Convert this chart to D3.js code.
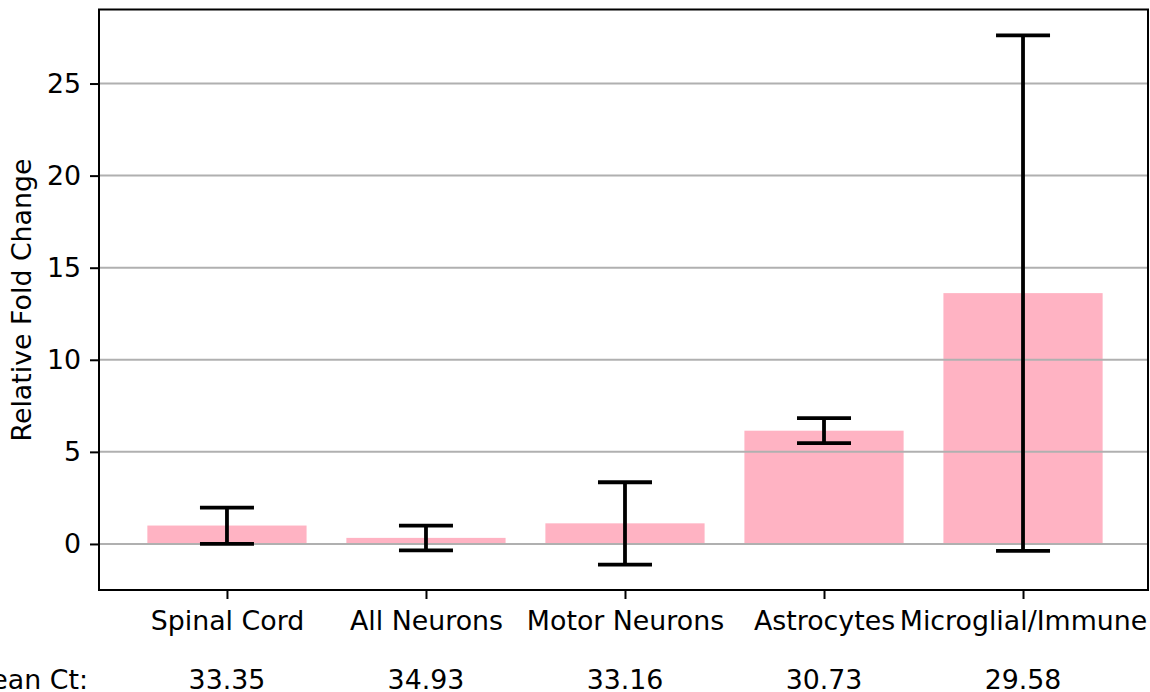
<!DOCTYPE html>
<html>
<head>
<meta charset="utf-8">
<script src="https://cdn.jsdelivr.net/npm/d3@7"></script>
<style>
  body { margin: 0; background: #fff; }
  svg text { font-family: "DejaVu Sans", sans-serif; fill: #000; }
</style>
</head>
<body>
<div id="chart"></div>
<script>
const categories = ["Spinal Cord", "All Neurons", "Motor Neurons", "Astrocytes", "Microglial/Immune"];
const foldChange = [1.0, 0.33, 1.12, 6.15, 13.62];
const errLow = [0.0, -0.35, -1.12, 5.47, -0.38];
const errHigh = [1.97, 1.0, 3.35, 6.83, 27.62];
const meanCt = ["33.35", "34.93", "33.16", "30.73", "29.58"];
const yTicks = [0, 5, 10, 15, 20, 25];

function createBarChart(container, {width, height}) {
  const margin = {top: 9.5, right: 2, bottom: 102, left: 99};
  const w = width - margin.left - margin.right;
  const h = height - margin.top - margin.bottom;
  const fontSize = 26.8;

  const svg = d3.select(container)
    .append("svg")
      .attr("width", width)
      .attr("height", height)
    .append("g")
      .attr("transform", `translate(${margin.left}, ${margin.top})`);

  const x = d3.scaleLinear().domain([-0.643, 4.628]).range([0, w]);
  const y = d3.scaleLinear().domain([-2.5, 29.02]).range([h, 0]);
  const barW = x(0.8) - x(0);
  const cap = 27;

  // bars
  svg.selectAll("rect.bar")
    .data(categories)
    .join("rect")
      .attr("class", "bar")
      .attr("x", (d, i) => x(i) - barW / 2)
      .attr("width", barW)
      .attr("y", (d, i) => y(Math.max(0, foldChange[i])))
      .attr("height", (d, i) => Math.abs(y(foldChange[i]) - y(0)))
      .attr("fill", "#ffb3c3");

  // horizontal grid (drawn over the bars)
  svg.append("g")
    .selectAll("line")
    .data(yTicks)
    .join("line")
      .attr("x1", 0).attr("x2", w)
      .attr("y1", d => y(d)).attr("y2", d => y(d))
      .attr("stroke", "#b0b0b0")
      .attr("stroke-width", 2);

  // error bars
  const eb = svg.append("g").attr("stroke", "#000").attr("stroke-width", 3.8);
  categories.forEach((c, i) => {
    const cx = x(i);
    eb.append("line").attr("x1", cx).attr("x2", cx)
      .attr("y1", y(errLow[i])).attr("y2", y(errHigh[i]));
    eb.append("line").attr("x1", cx - cap).attr("x2", cx + cap)
      .attr("y1", y(errLow[i])).attr("y2", y(errLow[i]));
    eb.append("line").attr("x1", cx - cap).attr("x2", cx + cap)
      .attr("y1", y(errHigh[i])).attr("y2", y(errHigh[i]));
  });

  // axes
  const yAxis = svg.append("g")
    .call(d3.axisLeft(y).tickValues(yTicks).tickSize(9).tickPadding(9).tickSizeOuter(0));
  yAxis.select(".domain").remove();
  yAxis.selectAll("line").attr("stroke-width", 2);
  yAxis.selectAll("text").style("font-size", fontSize + "px").attr("font-family", null);

  const xAxis = svg.append("g")
    .attr("transform", `translate(0, ${h})`)
    .call(d3.axisBottom(x).tickValues(d3.range(categories.length))
      .tickFormat(i => categories[i]).tickSize(9).tickPadding(12).tickSizeOuter(0));
  xAxis.select(".domain").remove();
  xAxis.selectAll("line").attr("stroke-width", 2);
  xAxis.selectAll("text").style("font-size", fontSize + "px").attr("font-family", null);

  // frame
  svg.append("rect")
    .attr("x", 0).attr("y", 0).attr("width", w).attr("height", h)
    .attr("fill", "none").attr("stroke", "#000").attr("stroke-width", 2);

  // mean Ct row
  svg.append("text")
    .attr("x", 88 - margin.left)
    .attr("y", 688.5 - margin.top)
    .style("text-anchor", "end")
    .style("font-size", fontSize + "px")
    .text("Mean Ct:");

  svg.selectAll("text.ct")
    .data(meanCt)
    .join("text")
      .attr("class", "ct")
      .attr("x", (d, i) => x(i))
      .attr("y", 688.5 - margin.top)
      .style("text-anchor", "middle")
      .style("font-size", fontSize + "px")
      .text(d => d);

  // y label
  svg.append("text")
    .attr("transform", "rotate(-90)")
    .attr("x", -(300 - margin.top))
    .attr("y", 31 - margin.left)
    .style("text-anchor", "middle")
    .style("font-size", fontSize + "px")
    .text("Relative Fold Change");

  return svg;
}

createBarChart(document.getElementById("chart"), {width: 1150, height: 692});
</script>
</body>
</html>
